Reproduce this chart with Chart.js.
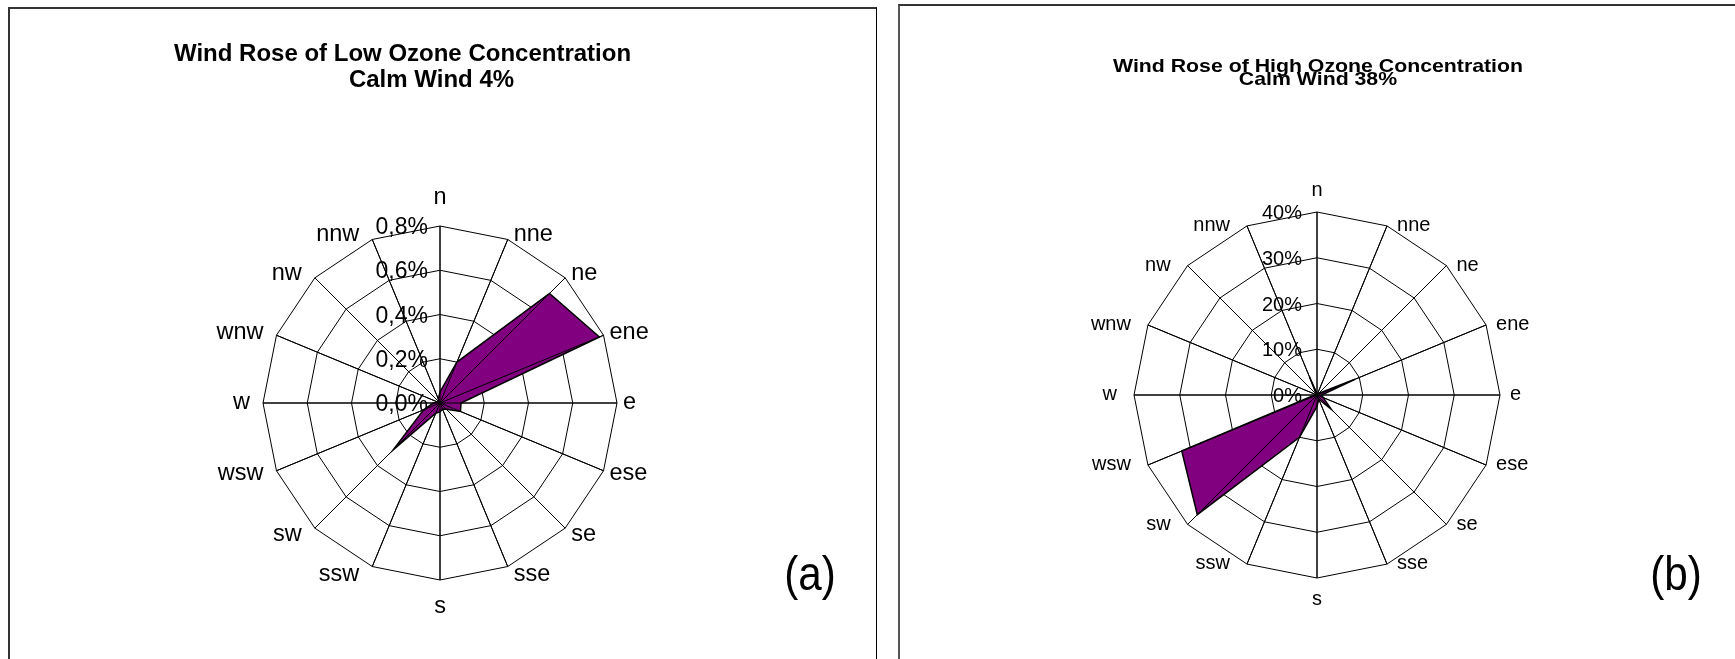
<!DOCTYPE html>
<html>
<head>
<meta charset="utf-8">
<title>Wind Rose of Ozone Concentration</title>
<script src="https://cdn.jsdelivr.net/npm/chart.js@4.4.0/dist/chart.umd.min.js"></script>
<style>
  html, body { margin: 0; padding: 0; background: #fff; }
  body { width: 1735px; height: 659px; position: relative; overflow: hidden; }
  .panel { position: absolute; box-sizing: border-box; background: #fff; }
  #panelA { left: 8px; top: 7px; width: 869px; height: 720px; border-top: 2px solid #333; border-left: 2px solid #333; border-right: 1px solid #000; }
  #panelB { left: 898px; top: 4px; width: 900px; height: 720px; border-top: 2px solid #333; border-left: 2px solid #555; }
  canvas { position: absolute; top: 0; }
  #roseA { left: 0; }
  #roseB { left: 886px; }
</style>
</head>
<body>
<div class="panel" id="panelA"></div>
<div class="panel" id="panelB"></div>
<canvas id="roseA" width="886" height="659"></canvas>
<canvas id="roseB" width="849" height="659"></canvas>
<script>
(function () {
    'use strict';

    // 16 compass directions, clockwise from north
    const directions = ['n', 'nne', 'ne', 'ene', 'e', 'ese', 'se', 'sse',
                        's', 'ssw', 'sw', 'wsw', 'w', 'wnw', 'nw', 'nnw'];

    // frequency (%) per direction
    const lowOzone  = [0.05, 0.20, 0.70, 0.78, 0.095, 0.10, 0.04, 0.03,
                       0.04, 0.05, 0.30, 0.08, 0.03, 0.01, 0.01, 0.02];
    const highOzone = [0.3, 0, 0.5, 9, 1, 1.5, 4.4, 1,
                       2.5, 10, 37, 32, 0.5, 0, 0.2, 4.3];

    const lowTicks = [0, 0.2, 0.4, 0.6, 0.8];
    const lowTickLabels = ['0,0%', '0,2%', '0,4%', '0,6%', '0,8%'];
    const highTicks = [0, 10, 20, 30, 40];
    const highTickLabels = ['0%', '10%', '20%', '30%', '40%'];

    const lowTitle = ['Wind Rose of Low Ozone Concentration', 'Calm Wind 4%'];
    const highTitle = ['Wind Rose of High Ozone Concentration', 'Calm Wind 38%'];

    const FONT = "'Liberation Sans', Arial, sans-serif";
    const FILL = '#800080';

    function drawText(ctx, txt, x, y, font, align, sx) {
        ctx.save();
        ctx.translate(x, y);
        ctx.scale(sx || 1, 1);
        ctx.font = font;
        ctx.textAlign = align;
        ctx.textBaseline = 'alphabetic';
        ctx.fillStyle = '#000';
        ctx.fillText(txt, 0, 0);
        ctx.restore();
    }

    // spokes show through the filled area in the original
    const spokesOnTop = {
        id: 'spokesOnTop',
        afterDatasetsDraw(chart) {
            const s = chart.scales.r;
            const ctx = chart.ctx;
            ctx.save();
            ctx.strokeStyle = '#000';
            ctx.lineWidth = 1;
            chart.data.labels.forEach((_, i) => {
                const p = s.getPointPosition(i, s.drawingArea);
                ctx.beginPath();
                ctx.moveTo(s.xCenter, s.yCenter);
                ctx.lineTo(p.x, p.y);
                ctx.stroke();
            });
            ctx.restore();
        }
    };

    // direction labels, value labels, titles and panel tag
    const roseText = {
        id: 'roseText',
        afterDraw(chart, args, o) {
            const s = chart.scales.r;
            const ctx = chart.ctx;
            const fs = o.labelSize;
            const lf = fs + 'px ' + FONT;

            chart.data.labels.forEach((lab, i) => {
                const a = s.getIndexAngle(i);
                const p = s.getPointPosition(i, s.drawingArea);
                const sin = Math.sin(a), cos = Math.cos(a);
                const lift = cos > 0 ? o.liftTop : o.liftBottom;
                let x = p.x, cy = p.y, align;
                if (Math.abs(sin) < 1e-6) {
                    align = 'center';
                    cy -= cos > 0 ? o.poleTop : -o.poleBottom;
                } else if (sin > 0) {
                    align = 'left';
                    x += o.gapR;
                    cy -= cos * lift;
                } else {
                    align = 'right';
                    x -= o.gapL;
                    cy -= cos * lift;
                }
                drawText(ctx, lab, x, cy + 0.26 * fs, lf, align, 1);
            });

            const tf = o.tickSize + 'px ' + FONT;
            o.ticks.forEach((v, i) => {
                const y = s.yCenter - s.getDistanceFromCenterForValue(v);
                drawText(ctx, o.tickLabels[i], s.xCenter - o.tickGap, y + 0.358 * o.tickSize, tf, 'right', 1);
            });

            const hf = 'bold ' + o.titleSize + 'px ' + FONT;
            o.title.forEach((t, i) => {
                drawText(ctx, t, o.titleX[i], o.titleY[i], hf, 'center', o.titleScale);
            });

            drawText(ctx, o.tag, o.tagX, o.tagY, o.tagSize + 'px ' + FONT, 'center', 0.88);
        }
    };

    function makeRose(id, labels, values, ticks, pad, textOpts) {
        const ctx = document.getElementById(id).getContext('2d');
        return new Chart(ctx, {
            type: 'radar',
            data: {
                labels: labels,
                datasets: [{
                    data: values,
                    fill: 'origin',
                    backgroundColor: FILL,
                    borderColor: '#000',
                    borderWidth: 1.5,
                    pointRadius: 0,
                    tension: 0
                }]
            },
            options: {
                responsive: false,
                animation: false,
                layout: { padding: pad },
                plugins: {
                    legend: { display: false },
                    tooltip: { enabled: false },
                    roseText: textOpts
                },
                scales: {
                    r: {
                        min: ticks[0],
                        max: ticks[ticks.length - 1],
                        ticks: { display: false, stepSize: ticks[1] - ticks[0] },
                        pointLabels: { display: false },
                        grid: { color: '#000', lineWidth: 1, circular: false },
                        angleLines: { color: '#000', lineWidth: 1 }
                    }
                }
            },
            plugins: [spokesOnTop, roseText]
        });
    }

    makeRose('roseA', directions, lowOzone, lowTicks,
        { left: 263, right: 269, top: 226, bottom: 79 },
        {
            labelSize: 23.5, gapR: 6, gapL: 13, liftTop: 5, liftBottom: 9,
            poleTop: 28, poleBottom: 27,
            ticks: lowTicks, tickLabels: lowTickLabels, tickSize: 23, tickGap: 12,
            title: lowTitle, titleSize: 24, titleScale: 1,
            titleX: [402.5, 431.5], titleY: [61, 87],
            tag: '(a)', tagSize: 48, tagX: 810, tagY: 590
        });

    makeRose('roseB', directions, highOzone, highTicks,
        { left: 248, right: 235, top: 212, bottom: 81 },
        {
            labelSize: 20, gapR: 10, gapL: 17, liftTop: 0, liftBottom: 0,
            poleTop: 21, poleBottom: 22,
            ticks: highTicks, tickLabels: highTickLabels, tickSize: 20, tickGap: 15,
            title: highTitle, titleSize: 19, titleScale: 1.12,
            titleX: [1318 - 886, 1318 - 886], titleY: [72, 85],
            tag: '(b)', tagSize: 48, tagX: 1676 - 886, tagY: 590
        });
})();
</script>
</body>
</html>
